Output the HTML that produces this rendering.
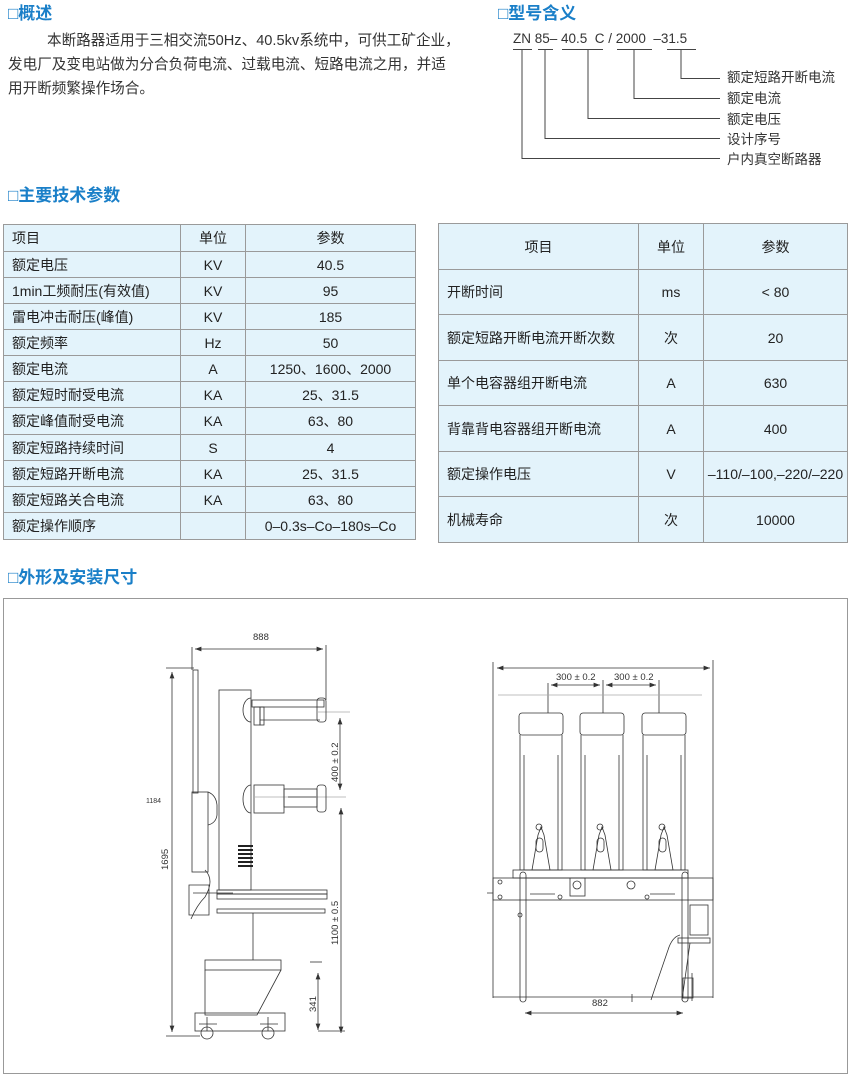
<!DOCTYPE html>
<html><head><meta charset="utf-8">
<style>
*{margin:0;padding:0;box-sizing:border-box}
body{width:850px;height:1077px;background:#fff;position:relative;font-family:"Liberation Sans","Noto Sans CJK SC",sans-serif;color:#333;overflow:hidden}
.h{position:absolute;color:#1a7fc8;font-size:17px;font-weight:bold;line-height:20px}
.p{position:absolute;font-size:14.6px;line-height:24px;left:8px;top:29px;width:500px;white-space:nowrap}
table{position:absolute;border-collapse:collapse;background:#e3f3fb;font-size:14px}
td{border:1px solid #9a9a9a;padding:0 0 0 8px;color:#222;white-space:nowrap}
td.c{text-align:center;padding:0}
.lab{position:absolute;font-size:13.5px;left:727px;line-height:16px}
</style></head><body>
<div class="h" style="left:8px;top:4px">□概述</div>
<div class="p"><span style="display:inline-block;width:39px"></span>本断路器适用于三相交流50Hz、40.5kv系统中，可供工矿企业，<br>发电厂及变电站做为分合负荷电流、过载电流、短路电流之用，并适<br>用开断频繁操作场合。</div>

<div class="h" style="left:498px;top:4px">□型号含义</div>
<div style="position:absolute;left:513px;top:31px;font-size:13.5px;letter-spacing:0">ZN 85– 40.5&nbsp; C / 2000 &nbsp;–31.5</div>
<svg style="position:absolute;left:0;top:0" width="850" height="180">
<g stroke="#444" stroke-width="1" fill="none">
<path d="M513 49.5H532M538 49.5H553M562 49.5H603M617 49.5H652M667 49.5H696"/>
<path d="M522 50V158.5H720M545 50V138.5H720M588 50V118.5H720M634 50V98.5H720M681 50V78.5H720"/>
</g></svg>
<div class="lab" style="top:70px">额定短路开断电流</div>
<div class="lab" style="top:91px">额定电流</div>
<div class="lab" style="top:112px">额定电压</div>
<div class="lab" style="top:132px">设计序号</div>
<div class="lab" style="top:152px">户内真空断路器</div>

<div class="h" style="left:8px;top:186px">□主要技术参数</div>
<table style="left:3px;top:224px;width:413px">
<colgroup><col style="width:177px"><col style="width:65px"><col></colgroup>
<tr style="height:27px"><td>项目</td><td class="c">单位</td><td class="c">参数</td></tr>
<tr style="height:26px"><td>额定电压</td><td class="c">KV</td><td class="c">40.5</td></tr>
<tr style="height:26px"><td>1min工频耐压(有效值)</td><td class="c">KV</td><td class="c">95</td></tr>
<tr style="height:26px"><td>雷电冲击耐压(峰值)</td><td class="c">KV</td><td class="c">185</td></tr>
<tr style="height:26px"><td>额定频率</td><td class="c">Hz</td><td class="c">50</td></tr>
<tr style="height:26px"><td>额定电流</td><td class="c">A</td><td class="c">1250、1600、2000</td></tr>
<tr style="height:26px"><td>额定短时耐受电流</td><td class="c">KA</td><td class="c">25、31.5</td></tr>
<tr style="height:27px"><td>额定峰值耐受电流</td><td class="c">KA</td><td class="c">63、80</td></tr>
<tr style="height:26px"><td>额定短路持续时间</td><td class="c">S</td><td class="c">4</td></tr>
<tr style="height:26px"><td>额定短路开断电流</td><td class="c">KA</td><td class="c">25、31.5</td></tr>
<tr style="height:26px"><td>额定短路关合电流</td><td class="c">KA</td><td class="c">63、80</td></tr>
<tr style="height:27px"><td>额定操作顺序</td><td class="c"></td><td class="c">0–0.3s–Co–180s–Co</td></tr>
</table>
<table style="left:438px;top:223px;width:410px">
<colgroup><col style="width:200px"><col style="width:65px"><col></colgroup>
<tr style="height:46px"><td class="c">项目</td><td class="c">单位</td><td class="c">参数</td></tr>
<tr style="height:45px"><td>开断时间</td><td class="c">ms</td><td class="c">&lt; 80</td></tr>
<tr style="height:46px"><td>额定短路开断电流开断次数</td><td class="c">次</td><td class="c">20</td></tr>
<tr style="height:45px"><td>单个电容器组开断电流</td><td class="c">A</td><td class="c">630</td></tr>
<tr style="height:46px"><td>背靠背电容器组开断电流</td><td class="c">A</td><td class="c">400</td></tr>
<tr style="height:45px"><td>额定操作电压</td><td class="c">V</td><td class="c">–110/–100,–220/–220</td></tr>
<tr style="height:46px"><td>机械寿命</td><td class="c">次</td><td class="c">10000</td></tr>
</table>

<div class="h" style="left:8px;top:568px">□外形及安装尺寸</div>
<div style="position:absolute;left:3px;top:598px;width:845px;height:476px;border:1px solid #999"></div>

<svg style="position:absolute;left:0;top:0" width="850" height="1077" font-family="Liberation Sans, sans-serif">
<defs><marker id="a" markerWidth="8" markerHeight="6" refX="8" refY="3" orient="auto-start-reverse"><path d="M0 0L8 3L0 6z" fill="#333"/></marker></defs>
<g stroke="#333" stroke-width="0.8" fill="none">
<line x1="195" y1="649" x2="323" y2="649" marker-start="url(#a)" marker-end="url(#a)"/>
<line x1="192" y1="647" x2="192" y2="670"/><line x1="326" y1="645" x2="326" y2="700"/>
<line x1="166" y1="668" x2="194" y2="668"/><line x1="166" y1="1036" x2="200" y2="1036"/>
<line x1="172" y1="672" x2="172" y2="1032" marker-start="url(#a)" marker-end="url(#a)"/>
<line x1="318" y1="712" x2="350" y2="712" stroke="#aaa"/><line x1="255" y1="797" x2="346" y2="797" stroke="#aaa"/>
<line x1="340" y1="718" x2="340" y2="790" marker-start="url(#a)" marker-end="url(#a)"/>
<line x1="341" y1="808" x2="341" y2="1033" marker-start="url(#a)" marker-end="url(#a)"/>
<line x1="318" y1="1031" x2="345" y2="1031"/><line x1="310" y1="962" x2="322" y2="962"/>
<line x1="318" y1="973" x2="318" y2="1030" marker-start="url(#a)" marker-end="url(#a)"/>
<rect x="193" y="670" width="5" height="123"/>
<rect x="219" y="690" width="32" height="200"/>
<path d="M251 698a8 12 0 0 0 0 24M251 785a8 14 0 0 0 0 28"/>
<rect x="252" y="700" width="72" height="7"/><rect x="254" y="707" width="6" height="18"/><rect x="260" y="707" width="4" height="18"/>
<line x1="260" y1="720" x2="320" y2="720"/><rect x="317" y="698" width="9" height="24" rx="3"/>
<rect x="254" y="785" width="30" height="28"/><rect x="284" y="789" width="33" height="18"/><rect x="317" y="785" width="9" height="27" rx="3"/>
<line x1="288" y1="797" x2="316" y2="797"/>
<rect x="192" y="792" width="16" height="80"/><path d="M208 792q8 3 9 13v10q-1 8-9 10"/>
<path d="M205 870q10 10 0 27q-8 8-14 22M193 893h40M189 885h20v30h-20z"/>
<rect x="217" y="890" width="110" height="4"/><rect x="217" y="894" width="110" height="5"/><rect x="217" y="909" width="108" height="4"/>
<line x1="253" y1="913" x2="253" y2="960"/>
<rect x="205" y="960" width="76" height="10"/><path d="M205 970v45h52l24-45"/>
<rect x="195" y="1013" width="90" height="18"/>
<circle cx="207" cy="1033" r="6"/><circle cx="268" cy="1033" r="6"/>
<path d="M199 1024h18M207 1017v14M260 1024h18M268 1017v14"/>
</g>
<g fill="#222"><rect x="238" y="845" width="15" height="2"/><rect x="238" y="849" width="15" height="2"/><rect x="238" y="853" width="15" height="2"/><rect x="238" y="857" width="15" height="2"/><rect x="238" y="861" width="15" height="2"/><rect x="238" y="865" width="15" height="2"/></g>
<g font-size="9.5" fill="#333">
<text x="253" y="640">888</text>
<text x="146" y="803" font-size="7">1184</text>
<text transform="translate(168 870) rotate(-90)">1695</text>
<text transform="translate(338 782) rotate(-90)">400 ± 0.2</text>
<text transform="translate(338 945) rotate(-90)">1100 ± 0.5</text>
<text transform="translate(316 1012) rotate(-90)">341</text>
</g>
<g stroke="#333" stroke-width="0.8" fill="none">
<line x1="497" y1="668" x2="710" y2="668" marker-start="url(#a)" marker-end="url(#a)"/>
<line x1="493" y1="662" x2="493" y2="998"/><line x1="713" y1="660" x2="713" y2="998"/>
<line x1="548" y1="683" x2="548" y2="713"/><line x1="603" y1="680" x2="603" y2="713"/><line x1="659" y1="680" x2="659" y2="713"/>
<line x1="551" y1="685" x2="600" y2="685" marker-start="url(#a)" marker-end="url(#a)"/>
<line x1="606" y1="685" x2="656" y2="685" marker-start="url(#a)" marker-end="url(#a)"/>
<line x1="498" y1="695" x2="702" y2="695" stroke="#aaa"/>
<g id="p"><rect x="519" y="713" width="44" height="22" rx="3"/><path d="M520 735v135h42v-135M524 755v115M558 755v115"/>
<path d="M532 870l6-35q3-8 3-8q0 0 3 8l6 35z"/><circle cx="539" cy="827" r="3"/><rect x="536" y="838" width="7" height="14" rx="3.5"/></g>
<use href="#p" x="61"/><use href="#p" x="123"/>
<rect x="513" y="870" width="175" height="8"/>
<rect x="493" y="878" width="220" height="22"/>
<rect x="520" y="872" width="6" height="130" rx="3"/><rect x="682" y="872" width="6" height="130" rx="3"/>
<rect x="570" y="878" width="15" height="18"/><circle cx="577" cy="885" r="4"/><circle cx="631" cy="885" r="4"/>
<path d="M530 894h25M650 894h25M487 893h6"/>
<circle cx="500" cy="882" r="2"/><circle cx="500" cy="897" r="2"/><circle cx="520" cy="915" r="2"/><circle cx="560" cy="897" r="2"/><circle cx="647" cy="897" r="2"/>
<rect x="690" y="905" width="18" height="30"/><rect x="678" y="938" width="32" height="5"/>
<path d="M680 935q-8 2-12 15l-12 35-5 15M690 943l-8 57M692 973v28M683 978h10v20h-10z"/>
<line x1="493" y1="997" x2="713" y2="997"/>
<line x1="525" y1="1013" x2="683" y2="1013" marker-start="url(#a)" marker-end="url(#a)"/>
<line x1="632" y1="994" x2="632" y2="1002"/>
</g>
<g font-size="9.5" fill="#333">
<text x="556" y="680">300 ± 0.2</text><text x="614" y="680">300 ± 0.2</text>
<text x="592" y="1006">882</text>
</g>
</svg>
</body></html>
